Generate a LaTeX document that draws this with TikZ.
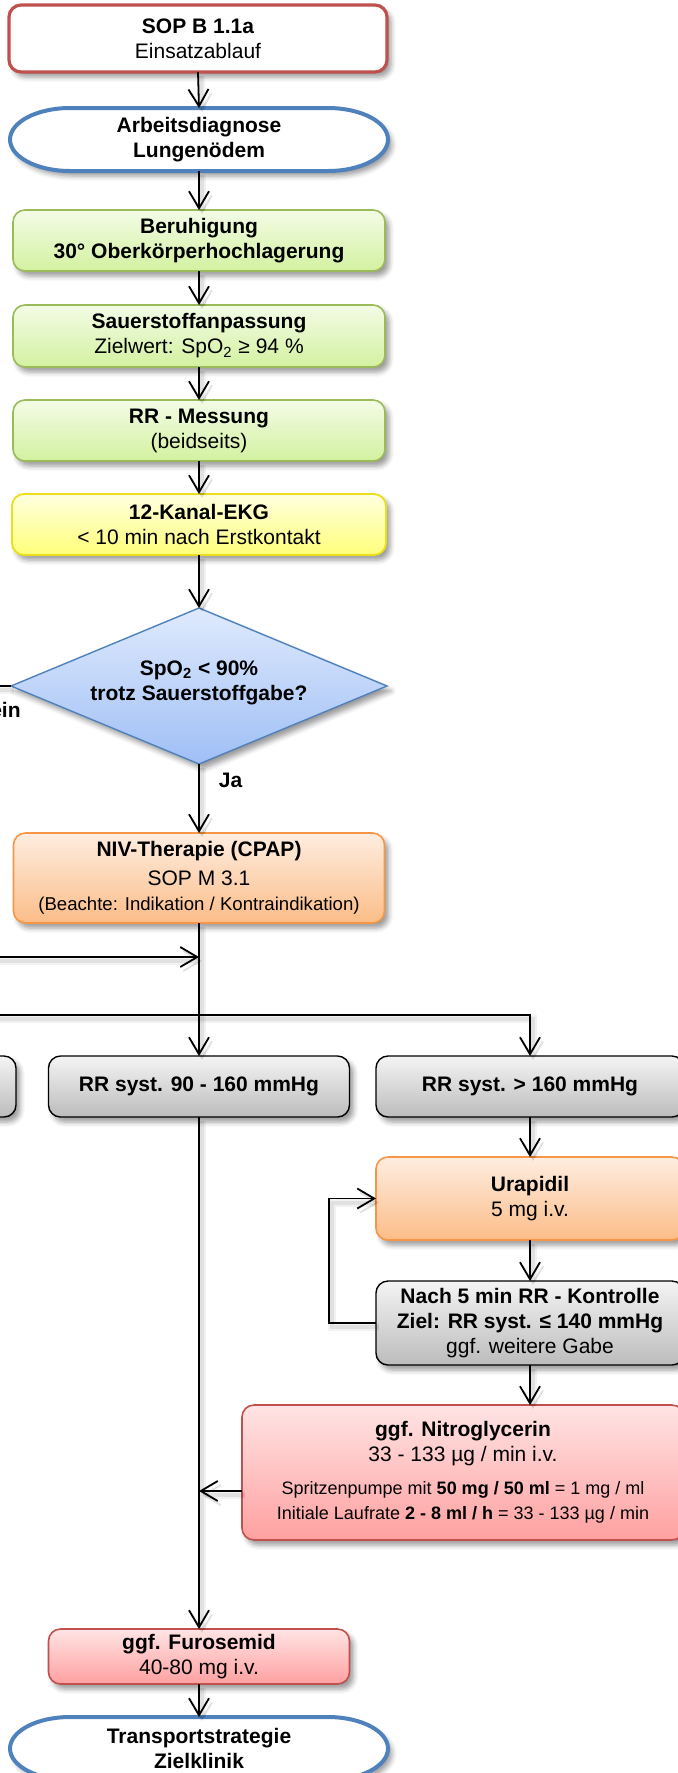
\documentclass[tikz,border=0pt]{standalone}
\usepackage{fontspec}
\setmainfont{Liberation Sans}
\usetikzlibrary{arrows.meta,shadows.blur,shapes.geometric,backgrounds}

% palette
\definecolor{sopred}{HTML}{C0504D}
\definecolor{termblue}{HTML}{4F81BD}
\definecolor{grnline}{HTML}{9BBB59}
\definecolor{grntop}{HTML}{F3FCE6}
\definecolor{grnbot}{HTML}{D3F1A0}
\definecolor{ylwline}{HTML}{EADF1A}
\definecolor{ylwtop}{HTML}{FFFFE0}
\definecolor{ylwbot}{HTML}{FFFF7A}
\definecolor{diatop}{HTML}{DFEAFD}
\definecolor{diabot}{HTML}{9FBFF5}
\definecolor{orgline}{HTML}{F79646}
\definecolor{orgtop}{HTML}{FEEDE0}
\definecolor{orgbot}{HTML}{FBBD88}
\definecolor{gratop}{HTML}{F4F4F4}
\definecolor{grabot}{HTML}{BCBCBC}
\definecolor{redtop}{HTML}{FFE4E4}
\definecolor{redbot}{HTML}{FFA0A0}

\tikzset{
  shad/.style={blur shadow={shadow xshift=2pt, shadow yshift=-2.5pt,
      shadow blur radius=2.5pt, shadow opacity=40}},
  base/.style={rounded corners=6pt, align=center, inner sep=0pt, outer sep=0pt,
    font=\fontsize{10.5pt}{12.5pt}\selectfont, shad},
  sopbox/.style={base, draw=sopred, line width=1.6pt, fill=white},
  grnbox/.style={base, draw=grnline, line width=0.8pt, top color=grntop, bottom color=grnbot},
  ylwbox/.style={base, draw=ylwline, line width=0.9pt, top color=ylwtop, bottom color=ylwbot},
  orgbox/.style={base, draw=orgline, line width=0.8pt, top color=orgtop, bottom color=orgbot},
  grabox/.style={base, draw=black, line width=0.7pt, top color=gratop, bottom color=grabot},
  redbox/.style={base, draw=sopred, line width=0.8pt, top color=redtop, bottom color=redbot},
  diabox/.style={shape=diamond, draw=termblue, line width=0.7pt, inner sep=0pt, outer sep=0pt,
    top color=diatop, bottom color=diabot, minimum width=188pt, minimum height=78pt, shad},
  term/.style={align=center, inner sep=0pt, outer sep=0pt, minimum width=189pt,
    minimum height=31.5pt, font=\fontsize{10.5pt}{12.5pt}\selectfont\bfseries},
  stadline/.style={draw=termblue, line width=2pt, fill=white, shad},
  lbl/.style={inner sep=0pt, font=\fontsize{10.5pt}{12.5pt}\selectfont\bfseries},
  txt/.style={inner sep=0pt, align=center, font=\fontsize{10.5pt}{12.5pt}\selectfont\bfseries},
  % soft shadow under connectors: a wide faint stroke plus a narrower one
  lineshadow/.style={
    preaction={draw=black, draw opacity=0.05, line width=4pt,
      transform canvas={xshift=1.5pt, yshift=-2pt}},
    preaction={draw=black, draw opacity=0.07, line width=2pt,
      transform canvas={xshift=1.5pt, yshift=-2pt}}},
  plain/.style={line width=0.9pt, lineshadow},
  arr/.style={line width=0.9pt, lineshadow,
    -{Straight Barb[length=8.5pt,width=10pt,line width=0.9pt]}},
}

% outline with elliptic ends around a terminal node
\newcommand{\stadiumfor}[1]{%
  \path[stadline] ([xshift=30pt]#1.north west) -- ([xshift=-30pt]#1.north east)
    arc[start angle=90, end angle=-90, x radius=30pt, y radius=15.75pt]
    -- ([xshift=30pt]#1.south west)
    arc[start angle=270, end angle=90, x radius=30pt, y radius=15.75pt] -- cycle;}

\begin{document}
\begin{tikzpicture}[x=0.5pt, y=-0.5pt]
\useasboundingbox (0,0) rectangle (678,1773);

% main column
\node[sopbox, minimum width=189pt, minimum height=33.5pt] (sop) at (198,38.5)
  {\textbf{SOP B 1.1a}\\Einsatzablauf};
\node[term] (diag) at (199,139.5) {Arbeitsdiagnose\\Lungenödem};
\node[grnbox, minimum width=186pt, minimum height=30.5pt] (beruh) at (199,240.5)
  {\textbf{Beruhigung}\\\textbf{30° Oberkörperhochlagerung}};
\node[grnbox, minimum width=186pt, minimum height=31pt] (sauer) at (199,336)
  {\textbf{Sauerstoffanpassung}\\Zielwert: SpO\textsubscript{2} ≥ 94 \%};
\node[grnbox, minimum width=186pt, minimum height=30.5pt] (rrmess) at (199,430.5)
  {\textbf{RR - Messung}\\(beidseits)};
\node[ylwbox, minimum width=187pt, minimum height=30.5pt] (ekg) at (199,524.5)
  {\textbf{12-Kanal-EKG}\\< 10 min nach Erstkontakt};
\node[diabox] (dec) at (199,686) {};
\node[txt] (dectext) at (199,683) {SpO\textsubscript{2} < 90\%\\trotz Sauerstoffgabe?};
\node[orgbox, minimum width=185.5pt, minimum height=45pt] (niv) at (199,878)
  {\textbf{NIV-Therapie (CPAP)}\\[2pt]SOP M 3.1\\
   \fontsize{9.3pt}{13pt}\selectfont (Beachte: Indikation / Kontraindikation)};

% blood pressure branches
\node[grabox, minimum width=150.5pt, minimum height=30.5pt] (lt) at (-134.5,1086.5) {};
\node[grabox, minimum width=150.5pt, minimum height=30.5pt] (mid) at (199,1086.5)
  {\textbf{RR syst. 90 - 160 mmHg}};
\node[grabox, minimum width=154pt, minimum height=30.5pt] (gt) at (530,1086.5)
  {\textbf{RR syst. > 160 mmHg}};
\node[orgbox, minimum width=154pt, minimum height=41.5pt] (urap) at (530,1198.5)
  {\textbf{Urapidil}\\5 mg i.v.};
\node[grabox, minimum width=154pt, minimum height=42pt] (nach) at (530,1323)
  {\textbf{Nach 5 min RR - Kontrolle}\\\textbf{Ziel: RR syst. ≤ 140 mmHg}\\ggf. weitere Gabe};
\node[redbox, minimum width=221pt, minimum height=67.5pt] (nitro) at (463,1472.5)
  {\textbf{ggf. Nitroglycerin}\\33 - 133 µg / min i.v.\\[4pt]
   \fontsize{9pt}{11.5pt}\selectfont Spritzenpumpe mit \textbf{50 mg / 50 ml} = 1 mg / ml\\
   \fontsize{9pt}{11.5pt}\selectfont Initiale Laufrate \textbf{2 - 8 ml / h} = 33 - 133 µg / min};
\node[redbox, minimum width=150.5pt, minimum height=27.5pt] (furo) at (199,1656.5)
  {\textbf{ggf. Furosemid}\\40-80 mg i.v.};
\node[term] (trans) at (199,1748.5) {Transportstrategie\\Zielklinik};

\begin{scope}[on background layer]
  \stadiumfor{diag}
  \stadiumfor{trans}
\end{scope}

% free ends and junctions
\coordinate (neinend) at (-30,686);
\coordinate (loopin) at (-30,957);
\coordinate (merge) at (199,957);
\coordinate (busl) at (-30,1015);
\coordinate (nitrojoin) at (199,1491);

% connectors
\draw[arr] (sop.south) -- (diag.north);
\draw[arr] (diag.south) -- (beruh.north);
\draw[arr] (beruh.south) -- (sauer.north);
\draw[arr] (sauer.south) -- (rrmess.north);
\draw[arr] (rrmess.south) -- (ekg.north);
\draw[arr] (ekg.south) -- (dec.north);
\draw[arr] (dec.south) -- (niv.north)
  node[lbl, pos=0.24, anchor=west, xshift=9.5pt] (ja) {Ja};
\draw[plain] (dec.west) -- (neinend);
\node[lbl, anchor=east] (nein) at (21,710) {Nein};
\draw[arr] (niv.south) -- (mid.north);
\draw[arr] (loopin) -- (merge);
\draw[arr] (busl) -| (gt.north);
\draw[arr] (gt.south) -- (urap.north);
\draw[arr] (urap.south) -- (nach.north);
\draw[arr] (nach.west) -- ++(-47,0) |- (urap.west);
\draw[arr] (nach.south) -- (nach.south |- nitro.north);
\draw[arr] (nitro.west |- nitrojoin) -- (nitrojoin);
\draw[arr] (mid.south) -- (furo.north);
\draw[arr] (furo.south) -- (trans.north);
\end{tikzpicture}
\end{document}
